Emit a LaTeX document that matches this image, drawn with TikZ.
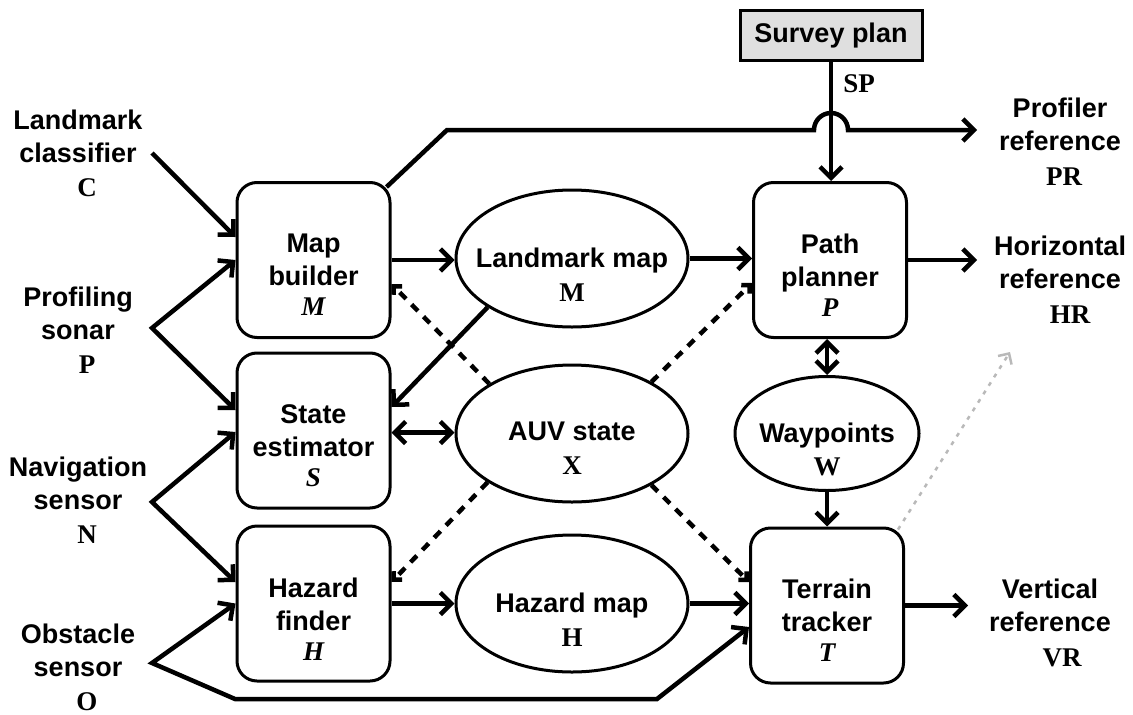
\documentclass[tikz,border=0pt]{standalone}
\usepackage{fontspec}
\setmainfont{Liberation Serif}
\setsansfont{Liberation Sans}
\usetikzlibrary{arrows.meta,shapes.geometric}
\newcommand\letU[1]{{\rmfamily\bfseries\fontsize{27}{33}\selectfont #1}}
\newcommand\letI[1]{{\rmfamily\bfseries\itshape\fontsize{27}{33}\selectfont #1}}
\begin{document}
\begin{tikzpicture}[x=1pt,y=-1pt,
  box/.style={draw, line width=3pt, rounded corners=20pt, minimum width=153pt, minimum height=155pt, inner sep=0pt},
  oval/.style={draw, ellipse, line width=3pt, minimum width=232pt, minimum height=137pt, inner sep=0pt},
  txt/.style={font=\fontsize{27}{33}\selectfont\sffamily\bfseries, align=center, inner sep=0pt},
  flow/.style={line width=4.5pt, line join=miter, -{Straight Barb[length=11pt,width=22pt]}},
  both/.style={line width=4.5pt, line join=miter, {Straight Barb[length=11pt,width=22pt]}-{Straight Barb[length=11pt,width=22pt]}},
  dflow/.style={line width=4.5pt, dash pattern=on 9pt off 8pt, -{Straight Barb[length=6pt,width=12pt]}},
  gflow/.style={line width=2.5pt, draw=gray!55, dash pattern=on 4pt off 6pt, -{Straight Barb[length=8pt,width=16pt]}}
]
\useasboundingbox (0,0) rectangle (1133,715);

% boxes
\node[box] (mb) at (313.5,260) {};
\node[box] (se) at (313.5,430.5) {};
\node[box] (hf) at (313.5,603.5) {};
\node[box] (pp) at (830,260) {};
\node[box] (tt) at (827,605.5) {};
\node[txt] (mbt) at (313.5,275) {Map\\builder\\[-3pt]\letI{M}};
\node[txt] (set) at (313.5,446) {State\\estimator\\[-3pt]\letI{S}};
\node[txt] (hft) at (313.5,619) {Hazard\\finder\\[-3pt]\letI{H}};
\node[txt] (ppt2) at (830,275) {Path\\planner\\[-3pt]\letI{P}};
\node[txt] (ttt) at (827,620.5) {Terrain\\tracker\\[-3pt]\letI{T}};

% ellipses
\node[oval] (lm) at (572,258.5) {};
\node[oval] (auv) at (572,433.5) {};
\node[oval] (hm) at (572,603.5) {};
\node[oval, minimum width=184pt, minimum height=114pt] (wp) at (827,433.5) {};
\node[txt] (lmt) at (572,274.5) {Landmark map\\[1pt]\letU{M}};
\node[txt] (auvt) at (572,448.5) {AUV state\\[1pt]\letU{X}};
\node[txt] (hmt) at (572,620) {Hazard map\\[1pt]\letU{H}};
\node[txt] (wpt) at (827,449) {Waypoints\\\letU{W}};

% survey plan
\node[txt, draw, line width=3pt, fill=gray!25, minimum width=182pt, minimum height=50pt] (sp) at (831,35.5) {Survey plan};
\node[font=\rmfamily\bfseries\fontsize{27}{30}\selectfont, inner sep=0pt] (spl) at (859,84) {SP};

% left labels
\node[txt] (lc) at (78,153) {Landmark\\classifier\\[1pt]\hspace*{18pt}\letU{C}};
\node[txt] (ps) at (78,330) {Profiling\\sonar\\[1pt]\hspace*{18pt}\letU{P}};
\node[txt] (ns) at (78,500) {Navigation\\sensor\\[1pt]\hspace*{18pt}\letU{N}};
\node[txt] (os) at (78,667) {Obstacle\\sensor\\[1pt]\hspace*{18pt}\letU{O}};

% right labels
\node[txt] (pr) at (1060,141.5) {Profiler\\reference\\[2pt]\hspace*{8pt}\letU{PR}};
\node[txt] (hr) at (1060,280) {Horizontal\\reference\\[2pt]\hspace*{20pt}\letU{HR}};
\node[txt] (vr) at (1050,623) {Vertical\\reference\\[2pt]\hspace*{24pt}\letU{VR}};

% junction coordinates
\coordinate (cpt) at (152,153);
\coordinate (spt) at (152,328);
\coordinate (npt) at (152,502);
\coordinate (opt) at (152,663);
\coordinate (ob1) at (235,699);
\coordinate (ob2) at (657,699);
\coordinate (hop) at (447,130);
\coordinate (hopL) at (814,130);
\coordinate (prin) at (977,130);
\coordinate (hrin) at (977,260);
\coordinate (vrin) at (968,605.5);
\coordinate (gend) at (1010,352);

% inputs
\draw[flow] (cpt) -- ([yshift=23pt]mb.west);
\draw[both] (mb.west) -- (spt) -- ([yshift=20.5pt]se.west);
\draw[both] ([yshift=-1.5pt]se.west) -- (npt) -- ([yshift=21.5pt]hf.west);
\draw[both] (hf.west) -- (opt) -- (ob1) -- (ob2) -- ([yshift=-21.5pt]tt.west);

% main flows
\draw[flow] (mb.east) -- (mb.east -| lm.west);
\draw[flow] (lm.east) -- (lm.east -| pp.west);
\draw[flow] (lm.210) -- ([yshift=23.5pt]se.east);
\draw[both] ([yshift=-2pt]se.east) -- ([yshift=-2pt]se.east -| auv.west);
\draw[flow] (hf.east) -- (hf.east -| hm.west);
\draw[flow] (hm.east) -- (hm.east -| tt.west);
\draw[both] (pp.south -| wp.north) -- (wp.north);
\draw[flow] (wp.south) -- (wp.south |- tt.north);
\draw[flow] (pp.east) -- (hrin);
\draw[flow] (tt.east) -- (vrin);
\draw[flow] (sp.south) -- (pp.north -| sp.south);
\draw[flow] ([shift={(-5pt,-6pt)}]mb.north east) -- (hop) -- (hopL) arc[start angle=180, end angle=0, radius=17pt] -- (prin);

% dashed influences of AUV state
\draw[dflow] (auv.149) -- ([yshift=-24pt]mb.east);
\draw[dflow] (auv.33) -- ([yshift=-23pt]pp.west);
\draw[dflow] (auv.210) -- ([yshift=21.5pt]hf.east);
\draw[dflow] (auv.327) -- ([yshift=23.5pt]tt.west);

% gray dotted
\draw[gflow] ([shift={(-7pt,-3pt)}]tt.north east) -- (gend);
\end{tikzpicture}
\end{document}
